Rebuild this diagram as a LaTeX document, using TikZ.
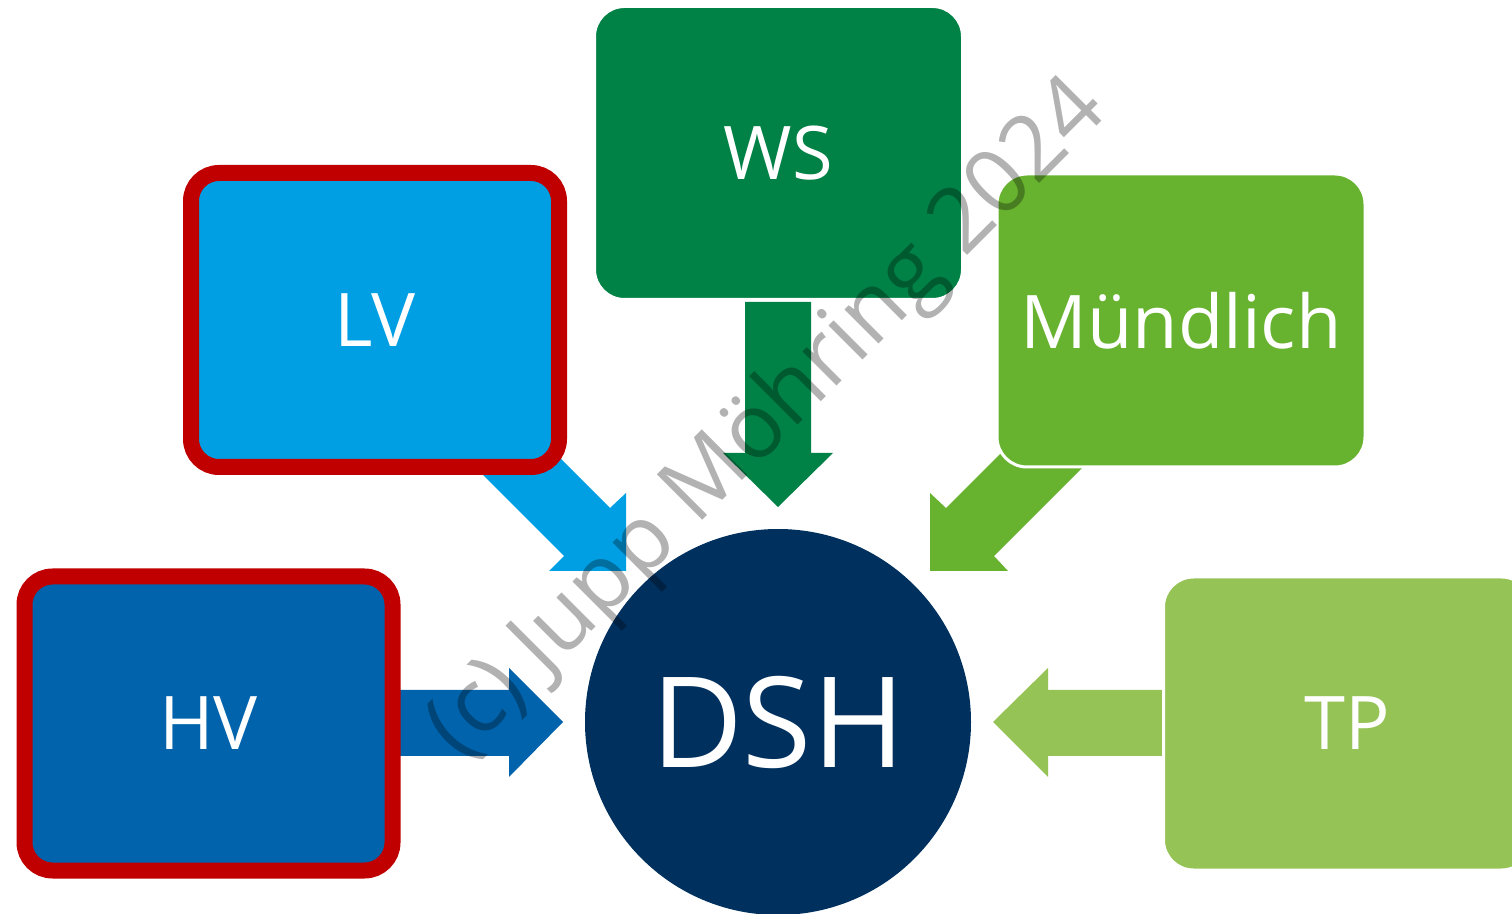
\documentclass[tikz,border=0pt]{standalone}
\usepackage{fontspec}
\setmainfont{Open Sans}
\definecolor{dshblau}{RGB}{0,48,94}
\definecolor{wsgruen}{RGB}{0,129,70}
\definecolor{lvblau}{RGB}{0,159,227}
\definecolor{hvblau}{RGB}{0,99,172}
\definecolor{mgruen}{RGB}{103,178,47}
\definecolor{tpgruen}{RGB}{149,195,85}
\definecolor{rotrand}{RGB}{192,0,0}
\begin{document}
\begin{tikzpicture}[
    x=0.5pt, y=-0.5pt,
    kasten/.style={rounded corners=15pt, inner sep=0pt, text=white,
        minimum width=184pt, minimum height=146.5pt,
        font=\fontsize{37}{40}\selectfont},
    rahmen/.style={draw=rotrand, line width=8pt, rounded corners=14pt,
        minimum width=184pt, minimum height=147pt}]
    \clip (0,0) rectangle (1512,914);

    % Blockpfeile, unter den Kaesten.
    \fill[wsgruen] (745,302) -- (811,302) -- (811,453) -- (833,453)
        -- (778,507) -- (723,453) -- (745,453) -- cycle;
    \fill[lvblau] (626,571) -- (626,493) -- (610,508) -- (490,388)
        -- (444,436) -- (564,556) -- (549,571) -- cycle;
    \fill[mgruen] (930,571) -- (930,493) -- (946,508) -- (1066,388)
        -- (1114,436) -- (994,556) -- (1008,571) -- cycle;
    \fill[hvblau] (380,690) -- (509,690) -- (509,668) -- (563,722)
        -- (509,777) -- (509,756) -- (380,756) -- cycle;
    \fill[tpgruen] (1163,690) -- (1048,690) -- (1048,668) -- (993,722)
        -- (1048,777) -- (1048,756) -- (1163,756) -- cycle;

    % Kaesten.
    \node[kasten, fill=wsgruen, draw=white, line width=1.5pt] (ws) at (778.5,153) {WS};
    \node[kasten, rahmen, fill=lvblau] (lv) at (375,320) {LV};
    \node[kasten, rahmen, fill=hvblau] (hv) at (208.5,723.5) {HV};
    \node[kasten, fill=mgruen, draw=white, line width=1.5pt] (muendlich) at (1181,320.5) {Mündlich};
    \node[kasten, fill=tpgruen, draw=white, line width=1.5pt] (tp) at (1347.5,723.5) {TP};

    % Kreis in der Mitte.
    \node[circle, fill=dshblau, minimum size=193pt, inner sep=0pt, text=white,
        font=\fontsize{63}{63}\selectfont] (dsh) at (778,722) {DSH};

    % Wasserzeichen.
    \node[rotate=45, text=black, opacity=.3,
        font=\fontsize{45}{45}\selectfont] (wz) at (769,421) {(c) Jupp Möhring 2024};
\end{tikzpicture}
\end{document}
